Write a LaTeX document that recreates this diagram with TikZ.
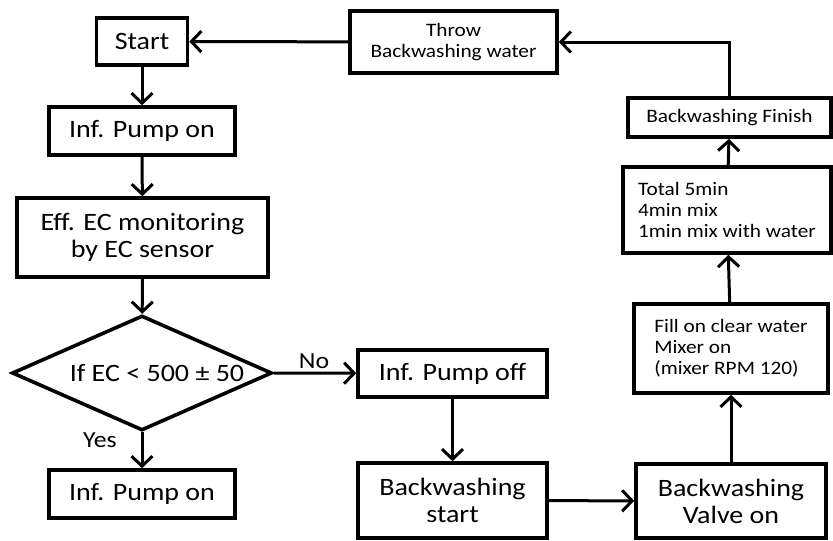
\documentclass[tikz,border=0pt]{standalone}
\usepackage{fontspec}
\setmainfont[FakeStretch=1.12]{Carlito}
\usetikzlibrary{shapes.geometric,arrows.meta}
\begin{document}
\begin{tikzpicture}[x=1pt,y=1pt,
  box/.style={draw,line width=3.6pt,inner sep=0pt,align=center,font=\fontsize{25}{27}\selectfont},
  sbox/.style={draw,line width=3.6pt,inner sep=0pt,align=center,font=\fontsize{19}{21}\selectfont},
  lbox/.style={draw,line width=3.6pt,inner sep=0pt,align=left,font=\fontsize{19}{21}\selectfont},
  arr/.style={line width=3pt,-{Straight Barb[length=10pt,width=21pt,line width=3pt]}},
  lbl/.style={font=\fontsize{23}{25}\selectfont}]
\useasboundingbox (0,0) rectangle (833,-541);
\node[box,minimum width=91,minimum height=47] (start) at (142,-41.5) {Start};
\node[box,minimum width=186,minimum height=48] (pump1) at (142,-131) {Inf. Pump on};
\node[box,minimum width=251,minimum height=79] (eff) at (142.5,-237.5) {Eff. EC monitoring\\by EC sensor};
\node[draw,line width=3.6pt,shape=diamond,aspect=2.26,inner sep=0pt,minimum width=260,minimum height=115,font=\fontsize{25}{27}\selectfont] (dec) at (142,-373) {\hspace{30pt}If EC < 500 ± 50};
\node[box,minimum width=186,minimum height=48] (pump2) at (142,-494) {Inf. Pump on};
\node[box,minimum width=189,minimum height=47] (pumpoff) at (452.5,-373.5) {Inf. Pump off};
\node[box,minimum width=189,minimum height=75] (bwstart) at (452.5,-500.5) {Backwashing\\start};
\node[box,minimum width=190,minimum height=74] (valve) at (731,-501) {Backwashing\\Valve on};
\node[lbox,minimum width=194,minimum height=89] (fill) at (731,-348.5) {Fill on clear water\\Mixer on\\(mixer RPM 120)};
\node[lbox,minimum width=208,minimum height=86] (total) at (727,-210) {Total 5min\\4min mix\\1min mix with water};
\node[sbox,minimum width=203,minimum height=39] (finish) at (729.5,-117.5) {Backwashing Finish};
\node[sbox,minimum width=207,minimum height=62] (throw) at (453.5,-42) {Throw\\Backwashing water};
\draw[arr] (start) -- (pump1);
\draw[arr] (pump1) -- (eff);
\draw[arr] (eff) -- (dec);
\draw[arr] (dec.south) -- (pump2);
\draw[arr] (dec.east) -- (pumpoff);
\draw[arr] (pumpoff) -- (bwstart);
\draw[arr] (bwstart) -- (valve);
\draw[arr] (valve) -- (fill);
\draw[arr] (fill) -- (total);
\draw[arr] (total) -- (finish);
\draw[arr] (finish.north) |- (throw.east);
\draw[arr] (throw) -- (start);
\node[lbl] (no) at (314,-361) {No};
\node[lbl] (yes) at (100,-440) {Yes};
\end{tikzpicture}
\end{document}
